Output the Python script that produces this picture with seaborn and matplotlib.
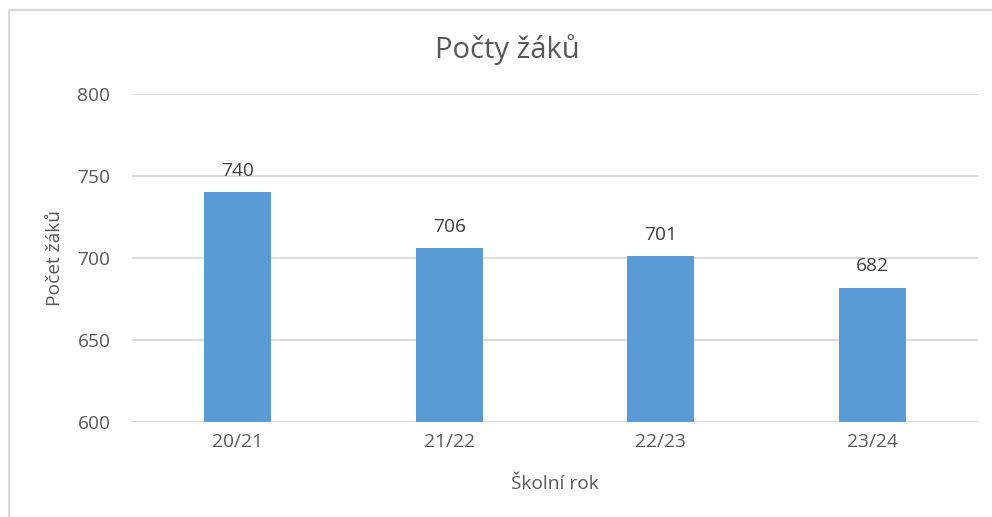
import matplotlib
matplotlib.use("Agg")
import matplotlib.pyplot as plt
import seaborn as sns
import pandas as pd
from matplotlib.patches import Rectangle

categories = ["20/21", "21/22", "22/23", "23/24"]
values = [740, 706, 701, 682]
y_ticks = [600, 650, 700, 750, 800]

title = "Počty žáků"
x_label = "Školní rok"
y_label = "Počet žáků"

df = pd.DataFrame({"rok": categories, "pocet": values})

sns.set_theme(style="white")
plt.rcParams["font.family"] = ["Open Sans", "DejaVu Sans"]

TEXT = "#595959"
GRID = "#D9D9D9"
BAR = "#5B9BD5"
FS = 13.8

W, H = 992, 517
fig = plt.figure(figsize=(W / 100, H / 100), dpi=100)
ax = fig.add_axes([132 / W, 1 - 422 / H, (978 - 132) / W, (422 - 94) / H])

sns.barplot(data=df, x="rok", y="pocet", ax=ax, color=BAR, width=0.317,
            saturation=1, edgecolor="none")

ax.set_ylim(600, 800)
ax.set_xlim(-0.5, len(categories) - 0.5)
ax.set_yticks(y_ticks)
ax.yaxis.grid(True, color=GRID, linewidth=1.3)
ax.set_axisbelow(True)
for s in ax.spines.values():
    s.set_visible(False)
ax.tick_params(axis="both", length=0, colors=TEXT, labelsize=FS)
ax.tick_params(axis="y", pad=15.5)
ax.tick_params(axis="x", pad=8)

ax.bar_label(ax.containers[0], labels=[str(v) for v in values], padding=9,
             color="#404040", fontsize=FS)

ax.set_xlabel(x_label, color=TEXT, fontsize=FS, labelpad=17)
ax.set_ylabel(y_label, color=TEXT, fontsize=FS, labelpad=10)

fig.text(507 / W, 1 - 50 / H, title, ha="center", va="center",
         color=TEXT, fontsize=21)

# chart frame
fig.patches.append(Rectangle((9 / W, -0.1), 1.2, 1 - 10 / H + 0.1,
                             transform=fig.transFigure, fill=False,
                             edgecolor=GRID, linewidth=1.5))

fig.savefig("out.png", dpi=100, facecolor="white")
